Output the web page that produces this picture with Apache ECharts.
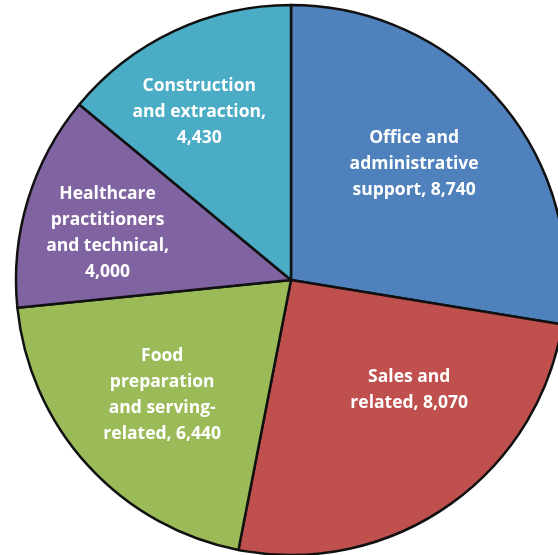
<!DOCTYPE html>
<html>
<head>
<meta charset="utf-8">
<script src="https://cdn.jsdelivr.net/npm/echarts@6/dist/echarts.min.js"></script>
<style>
html,body{margin:0;padding:0;background:#fff;}
#chart{width:558px;height:555px;}
</style>
</head>
<body>
<div id="chart"></div>
<script>
// Data
var categories = [
  "Office and\nadministrative\nsupport",
  "Sales and\nrelated",
  "Food\npreparation\nand serving-\nrelated",
  "Healthcare\npractitioners\nand technical",
  "Construction\nand extraction"
];
var values = [8740, 8070, 6440, 4000, 4430];
var valueOnOwnLine = [false, false, false, true, true];

// Styles
var colors = ["#4F81BD", "#C0504D", "#9BBB59", "#8064A2", "#4BACC6"];
var labelShift = [[16, -25.5], [38, -5], [-25, 20.5], [-49, -6.5], [-32, -40.5]];

function fmt(n) { return n.toLocaleString("en-US"); }

var chart = echarts.init(document.getElementById("chart"));
chart.setOption({
  animation: false,
  color: colors,
  series: [{
    type: "pie",
    center: [291, 280],
    radius: 275,
    startAngle: 90,
    clockwise: true,
    avoidLabelOverlap: false,
    silent: true,
    data: categories.map(function (c, i) { return { name: c, value: values[i] }; }),
    itemStyle: { borderColor: "#111", borderWidth: 2.5 },
    label: {
      show: true,
      position: "inside",
      color: "#fff",
      fontFamily: "Open Sans",
      fontWeight: "bold",
      fontSize: 17.5,
      lineHeight: 26,
      align: "center",
      formatter: function (p) {
        return p.name + (valueOnOwnLine[p.dataIndex] ? ",\n" : ", ") + fmt(p.value);
      }
    },
    labelLine: { show: false },
    labelLayout: function (p) {
      var s = labelShift[p.dataIndex];
      return { dx: s[0], dy: s[1] };
    }
  }]
});
</script>
</body>
</html>
